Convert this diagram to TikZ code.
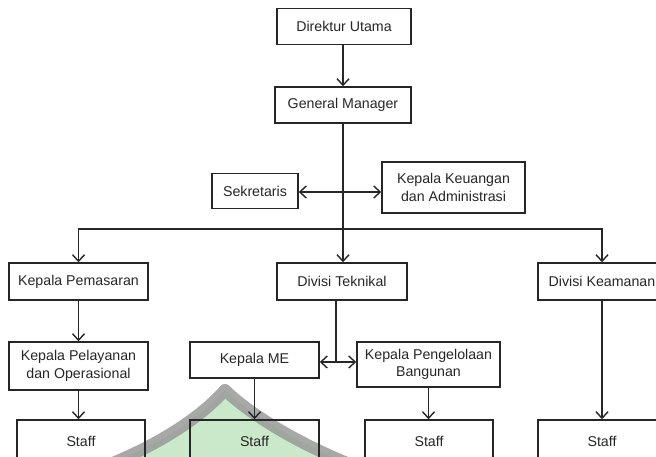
\documentclass[tikz,border=0pt]{standalone}
\usepackage{fontspec}
\setmainfont{Liberation Sans}
\usetikzlibrary{arrows.meta}
\begin{document}
\begin{tikzpicture}[x=1pt,y=-1pt,
  box/.style={draw=black!85,line width=1.5pt,align=center,inner sep=0pt,
    font=\fontsize{14.2}{17.5}\selectfont,text=black!85},
  conn/.style={draw=black!85,line width=1.5pt},
  arr/.style={conn,-{Straight Barb[length=6.5pt,width=12pt,line width=1.4pt]}},
  darr/.style={conn,{Straight Barb[length=6.5pt,width=12pt,line width=1.4pt]}-{Straight Barb[length=6.5pt,width=12pt,line width=1.4pt]}}]
\useasboundingbox (0,0) rectangle (656,457);
\clip (0,0) rectangle (656,457);
% watermark
\fill[green!60!black!35,opacity=0.6] (95,470) .. controls (175,440) and (212,405) .. (225,390) .. controls (240,405) and (285,440) .. (365,470) -- cycle;
\draw[black!40,line width=12pt,opacity=0.85,line join=round] (95,470) .. controls (175,440) and (212,405) .. (225,390) .. controls (240,405) and (285,440) .. (365,470);
% nodes
\node[box,minimum width=134pt,minimum height=36pt] (du) at (344,26.5) {Direktur Utama};
\node[box,minimum width=136pt,minimum height=36pt] (gm) at (343,105) {General Manager};
\node[box,minimum width=86pt,minimum height=35pt] (sek) at (255,191) {Sekretaris};
\node[box,minimum width=143pt,minimum height=51pt] (keu) at (453.5,187.5) {Kepala Keuangan\\dan Administrasi};
\node[box,minimum width=139pt,minimum height=37pt] (pem) at (78.5,281.5) {Kepala Pemasaran};
\node[box,minimum width=130pt,minimum height=37pt] (tek) at (342,281.5) {Divisi Teknikal};
\node[box,minimum width=128pt,minimum height=37pt] (kea) at (602,281.5) {Divisi Keamanan};
\node[box,minimum width=139pt,minimum height=48pt] (pel) at (78.5,366) {Kepala Pelayanan\\dan Operasional};
\node[box,minimum width=129pt,minimum height=36pt] (me) at (254.5,360) {Kepala ME};
\node[box,minimum width=143pt,minimum height=45pt] (pen) at (428.5,364.5) {Kepala Pengelolaan\\Bangunan};
\node[box,minimum width=128pt,minimum height=42pt] (s1) at (81,441) {Staff};
\node[box,minimum width=129pt,minimum height=42pt] (s2) at (254.5,441) {Staff};
\node[box,minimum width=128pt,minimum height=42pt] (s3) at (429,441) {Staff};
\node[box,minimum width=128pt,minimum height=42pt] (s4) at (602,441) {Staff};
% connectors
\coordinate (bus) at (343,229);
\coordinate (sk) at (343,192);
\coordinate (tj) at (336,362);
\draw[arr] (du.south -| gm.north) -- (gm.north);
\draw[arr] (gm.south) -- (tek.north -| gm.south);
\draw[darr] (sek.east |- sk) -- (keu.west |- sk);
\draw[arr] (bus) -| (pem.north);
\draw[arr] (bus) -| (kea.north);
\draw[arr] (pem.south) -- (pel.north);
\draw[arr] (pel.south) -- (pel.south |- s1.north);
\draw[conn] (tek.south -| tj) -- (tj);
\draw[arr] (tj) -- (tj -| me.east);
\draw[arr] (tj) -- (tj -| pen.west);
\draw[arr] (me.south) -- (s2.north);
\draw[arr] (pen.south) -- (pen.south |- s3.north);
\draw[arr] (kea.south) -- (s4.north);
\end{tikzpicture}
\end{document}
